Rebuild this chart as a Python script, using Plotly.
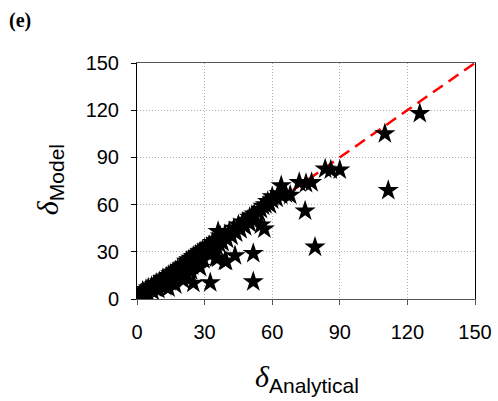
import plotly.graph_objects as go

# Estimated data points (delta_Analytical, delta_Model)
x_analytical = [
    0.5, 1, 1.5, 2, 2.5, 3, 3.5, 4, 4.5, 5, 5, 6, 6.5, 7, 7.5, 8, 8.5, 9, 9.5, 10, 10,
    11, 11.5, 12, 12.5, 13, 13.5, 14, 14.5, 15, 15.5, 16, 16.5, 17, 17.5, 18, 18.5, 19, 19.5, 20, 20, 14, 17,
    21, 21.5, 22, 22.5, 23, 23.5, 24, 24.5, 25, 25.5, 26, 26.5, 27, 27.5, 28, 28.5, 29, 29.5, 30, 22, 24, 28,
    31, 31.5, 32, 33, 33.5, 34, 35, 35.5, 36, 36.5, 37, 38, 39, 40, 36, 35, 39, 43.5,
    41, 42, 43, 44, 45, 46, 47, 48, 49, 50, 51, 50,
    52, 54, 55, 56, 57, 58, 59, 60, 62, 64, 66, 68, 64, 60, 63,
    25, 20.5, 32.5, 51.6, 51.6, 36, 39.5, 55, 56.5, 74.6, 79, 72, 75, 77.5,
    83.5, 86, 90, 110, 111.5, 125.5,
]
y_model = [
    1, 0.5, 3, 2, 5, 4, 2, 6, 5, 3, 7, 6, 8, 5, 9, 7, 10, 8, 6, 11, 9,
    10, 13, 12, 8, 14, 12, 15, 11, 16, 14, 17, 13, 18, 16, 19, 15, 20, 18, 21, 17, 7, 9,
    22, 19, 24, 20, 25, 22, 26, 21, 27, 24, 28, 23, 29, 26, 30, 27, 31, 25, 32, 15, 18, 20,
    33, 29, 34, 31, 36, 32, 37, 33, 38, 35, 40, 36, 41, 38, 43, 26, 24, 27.5,
    43, 40, 45, 42, 47, 44, 49, 46, 50, 48, 53, 52,
    54, 55, 57, 59, 60, 62, 60, 63, 64, 66, 67, 66, 72, 65, 67,
    10, 12, 10.4, 11, 29, 26, 24, 47, 44.5, 56, 33, 74, 73.5, 74,
    82.6, 82, 82, 105, 69, 118,
]
line_x = [0, 150]
line_y = [0, 150]
tick_vals = [0, 30, 60, 90, 120, 150]

fig = go.Figure()
fig.add_trace(go.Scatter(
    x=line_x, y=line_y, mode="lines",
    line=dict(color="#ff0000", width=2.5, dash="12px,7px"),
    showlegend=False, hoverinfo="skip",
))
fig.add_trace(go.Scatter(
    x=x_analytical, y=y_model, mode="markers",
    marker=dict(symbol="star", size=16, color="black", line=dict(width=0)),
    showlegend=False,
))

axis_common = dict(
    range=[0, 150], tickvals=tick_vals, automargin=False,
    showgrid=True, gridcolor="#b0b0b0", griddash="1px,2px", gridwidth=1,
    ticks="outside", ticklen=5, tickwidth=1,
    tickfont=dict(family="Liberation Sans, Arial", size=20, color="black"),
    zeroline=False, showline=True, mirror=True,
)
fig.update_xaxes(**axis_common, linecolor="#555555", tickcolor="#555555", ticklabelstandoff=10)
fig.update_yaxes(**axis_common, linecolor="black", tickcolor="black", ticklabelstandoff=8)

delta = "<span style='font-family:Liberation Serif;font-style:italic'>δ</span>"
fig.update_layout(
    width=498, height=401,
    margin=dict(l=137, r=23, t=63, b=102),
    plot_bgcolor="white", paper_bgcolor="white",
    annotations=[
        dict(text="<b>(e)</b>", x=-0.3846, y=1.182, xref="paper", yref="paper",
             xanchor="left", yanchor="middle", showarrow=False,
             font=dict(family="Liberation Serif, Times New Roman", size=20, color="black")),
        dict(text=delta + "<sub>Analytical</sub>",
             xref="paper", yref="paper", x=0.503, y=-0.335, xanchor="center", yanchor="middle",
             showarrow=False, font=dict(family="Liberation Sans, Arial", size=30, color="black")),
        dict(text=delta + "<sub>Model</sub>",
             xref="paper", yref="paper", x=-0.26, y=0.504, xanchor="center", yanchor="middle",
             showarrow=False, textangle=-90,
             font=dict(family="Liberation Sans, Arial", size=30, color="black")),
    ],
)

fig.write_html("out.html", config={"displayModeBar": False},
               post_script="document.body.style.margin='0px';")
